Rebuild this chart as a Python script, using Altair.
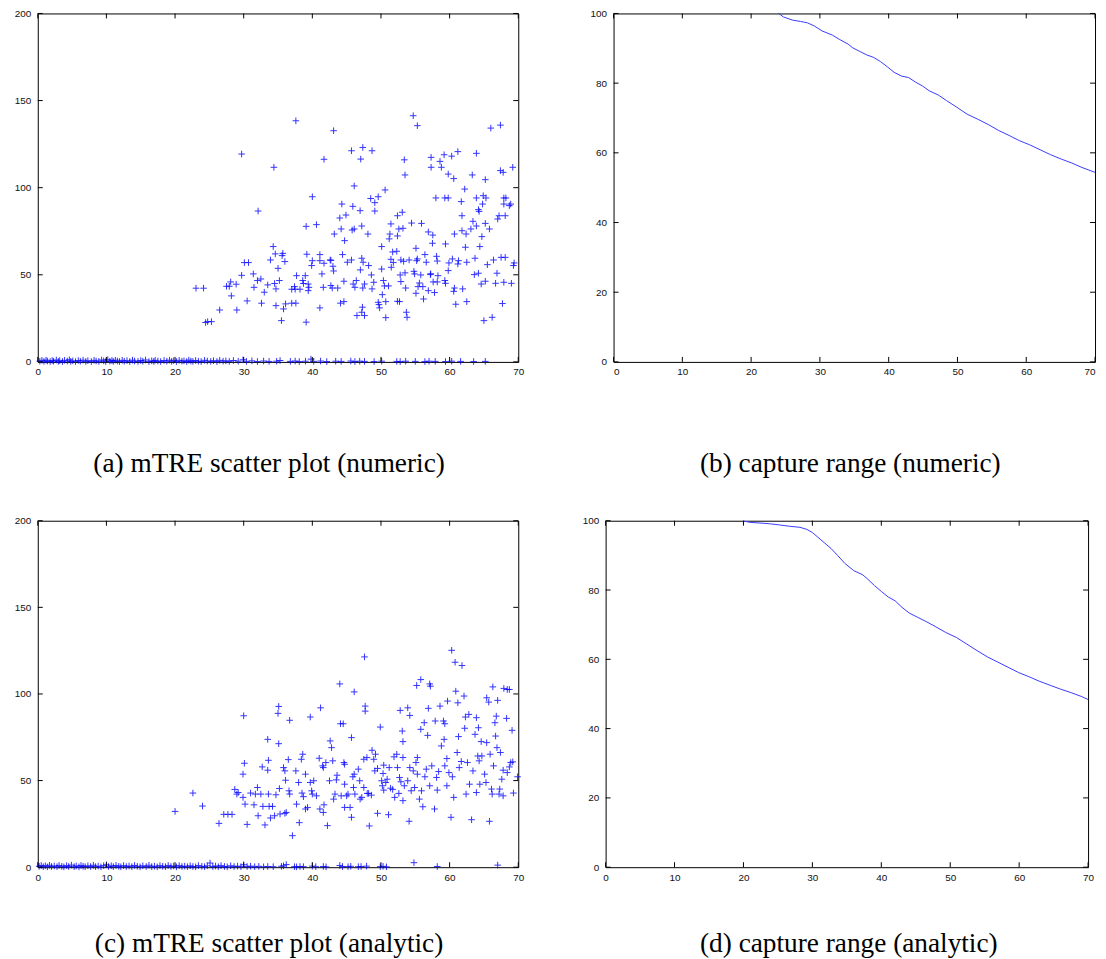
import altair as alt
import pandas as pd

# ---------------- data ----------------
x_ticks = [0, 10, 20, 30, 40, 50, 60, 70]
y_ticks_scatter = [0, 50, 100, 150, 200]
y_ticks_capture = [0, 20, 40, 60, 80, 100]

# (a) mTRE scatter (numeric): failed/large-error cloud
a_cloud = [
    (23.05,42.3),(24.15,42.3),(24.45,22.6),(24.75,23.1),(25.3,23.1),(26.5,29.8),(27.5,43.4),(27.9,43.4),(28.1,45.9),(28.2,37.9),
    (28.9,44.6),(29.0,29.8),(29.7,119.3),(29.7,49.7),(30.1,57.0),(30.7,57.0),(30.5,35.0),(31.4,50.5),(31.5,42.8),(32.1,86.6),
    (32.0,46.7),(32.5,47.6),(32.6,33.7),(33.0,40.0),(33.5,44.2),(33.9,58.5),(34.3,66.2),(34.4,111.7),(34.6,62.0),(34.5,45.0),
    (34.7,41.9),(34.7,32.3),(35.0,53.7),(35.2,46.7),(35.5,23.7),(35.6,61.0),(35.7,62.3),(35.8,30.4),(36.0,57.6),(36.1,33.3),
    (37.0,33.7),(37.0,41.7),(37.4,43.2),(37.5,41.7),(37.6,138.4),(37.7,49.5),(37.6,33.7),(38.2,41.7),(38.6,46.7),(38.7,45.0),
    (38.97,49.5),(39.1,77.8),(39.1,22.8),(39.2,61.8),(39.4,44.7),(39.5,42.8),(39.4,40.9),(40.0,94.8),(39.9,55.3),(40.0,58.1),
    (40.6,78.8),(41.1,31.0),(41.1,61.6),(41.1,58.1),(41.4,50.5),(41.6,42.8),(41.7,116.3),(41.7,56.6),(42.6,58.5),(42.7,58.3),
    (42.7,43.8),(42.9,42.4),(43.0,54.9),(43.1,132.7),(43.2,73.4),(43.1,52.2),(43.7,42.4),(44.0,82.6),(44.2,76.3),(44.4,61.6),
    (44.3,90.6),(44.1,33.7),(44.6,34.6),(44.6,46.3),(44.9,84.3),(44.7,69.6),(45.1,57.2),(45.7,58.5),(45.7,121.2),(45.9,89.3),
    (45.8,75.7),(46.1,76.3),(46.1,101.0),(45.95,44.7),(46.2,42.8),(46.5,26.6),(46.4,46.7),(46.96,86.8),(47.05,116.4),(47.2,78.0),
    (47.0,52.8),(47.2,59.5),(47.4,57.2),(47.2,28.5),(47.3,31.4),(47.35,123.1),(47.35,42.4),(47.6,44.7),(47.6,26.6),(48.1,73.4),
    (48.2,55.3),(48.5,93.8),(48.6,49.9),(48.7,121.2),(48.7,41.9),(48.95,45.7),(49.1,91.4),(49.1,86.6),(49.6,94.8),(49.6,34.2),
    (49.7,32.9),(49.8,31.0),(50.1,66.2),(50.1,53.3),(50.2,38.6),(50.35,46.7),(50.5,43.6),(50.6,98.7),(50.7,34.6),(50.7,25.4),
    (51.1,43.6),(51.2,70.6),(51.3,73.4),(51.45,58.9),(51.45,79.2),(51.5,54.3),(51.7,63.1),(51.8,57.0),(52.3,63.5),(52.4,83.9),
    (52.4,72.3),(52.6,76.3),(52.4,34.8),(52.7,34.6),(52.8,49.9),(52.9,58.5),(53.1,85.9),(53.2,76.7),(52.9,46.1),(53.3,57.7),
    (53.4,116.0),(53.5,107.3),(53.5,51.1),(53.6,42.4),(53.7,28.5),(53.8,25.6),(54.1,58.5),(54.45,79.7),(54.7,141.3),(54.8,52.0),
    (54.9,50.5),(55.1,65.2),(55.1,39.4),(55.3,135.6),(55.2,58.1),(55.3,59.1),(55.4,43.2),(55.6,45.3),(55.8,49.9),(55.9,79.5),
    (56.1,43.2),(56.2,36.1),(56.4,61.6),(56.6,57.2),(56.9,40.9),(56.9,74.6),(57.3,117.4),(57.3,111.7),(57.2,50.1),(57.25,50.6),
    (57.5,68.1),(57.55,72.8),(57.6,45.9),(57.8,39.8),(58.0,94.1),(58.1,60.6),(58.2,57.9),(58.2,45.9),(58.3,49.5),(58.6,115.1),
    (58.8,111.7),(59.2,118.9),(59.3,94.1),(59.4,67.7),(59.3,46.7),(59.4,45.1),(59.8,107.8),(59.8,94.1),(59.8,52.4),(59.9,56.8),
    (60.3,118.1),(60.4,59.1),(60.6,105.2),(60.6,40.5),(60.7,42.4),(60.7,73.4),(60.9,33.1),(61.2,120.7),(61.2,56.2),(61.3,58.1),
    (61.7,92.0),(61.8,83.9),(61.8,75.3),(61.9,41.9),(62.2,99.2),(62.3,65.8),(62.4,73.4),(62.5,57.2),(62.5,34.6),(63.1,76.3),
    (63.3,107.3),(63.4,80.7),(63.6,50.1),(63.7,59.5),(63.9,119.7),(63.9,94.1),(63.9,78.0),(64.2,87.4),(64.3,86.4),(64.2,50.9),
    (64.4,66.2),(64.6,44.7),(64.7,71.9),(64.8,90.6),(64.9,95.4),(65.0,23.7),(65.2,104.6),(65.2,79.5),(65.3,94.1),(65.2,46.3),
    (65.5,55.8),(65.8,76.3),(66.0,134.2),(66.2,25.6),(66.4,58.5),(66.7,45.1),(66.9,50.9),(67.0,82.0),(67.2,83.9),(67.4,135.9),
    (67.4,109.8),(67.5,60.0),(67.7,33.5),(67.8,108.8),(67.9,94.1),(68.2,94.1),(67.9,45.7),(68.1,83.9),(68.1,60.0),(67.9,90.6),
    (68.7,89.7),(68.9,90.6),(69.0,45.1),(69.2,111.7),(69.3,55.3),(69.4,56.8),
]

# (a) captured runs: mTRE close to zero
a_zero = [
    (0.3,0.4),(0.6,0.9),(0.9,0.3),(1.2,1.0),(1.4,0.5),(1.8,0.2),(2.1,0.8),(2.3,0.4),(2.7,1.1),(3.0,0.3),
    (3.2,0.7),(3.6,0.2),(3.9,0.9),(4.3,0.5),(4.6,1.2),(4.8,0.3),(5.1,0.6),(5.5,0.2),(5.9,0.8),(6.2,0.4),
    (6.6,1.0),(7.0,0.3),(7.3,0.7),(7.8,0.2),(8.2,0.9),(8.5,0.5),(8.9,0.3),(9.3,1.1),(9.6,0.6),(9.9,0.2),
    (10.2,1.3),(10.5,0.4),(10.8,0.8),(11.0,0.3),(11.3,1.0),(11.6,0.5),(11.9,0.2),(12.3,0.9),(12.6,0.4),(13.0,0.7),
    (13.4,0.2),(13.8,1.0),(14.1,0.5),(14.6,0.3),(15.0,0.8),(15.3,0.4),(15.7,1.1),(16.2,0.2),(16.6,0.6),(16.9,0.3),
    (17.1,0.9),(17.5,0.5),(17.9,0.2),(18.4,0.8),(18.8,0.4),(19.2,1.0),(19.5,0.3),(19.8,0.7),(20.2,0.2),(20.6,0.9),
    (21.0,0.4),(21.3,0.6),(21.7,0.2),(22.0,1.0),(22.3,0.5),(22.6,0.3),(23.0,0.8),(23.4,0.4),(23.8,0.2),(24.3,0.9),
    (24.7,0.5),(25.2,0.3),(25.6,0.7),(26.1,0.2),(26.5,0.9),(27.0,0.4),(27.4,0.6),(27.9,0.3),(28.5,0.8),(29.2,0.4),
    (29.9,1.2),(30.4,0.3),(31.2,0.6),(32.0,0.2),(32.9,0.5),(33.7,0.3),(34.8,0.4),(35.3,0.8),(36.8,0.3),(37.5,0.5),
    (38.1,0.2),(39.0,0.4),(39.8,1.6),(40.2,0.3),(41.2,0.5),(42.1,0.2),(43.4,0.4),(44.2,0.3),(45.6,0.5),(46.2,0.2),
    (46.9,0.4),(47.6,0.3),(49.0,0.2),(50.1,0.4),(52.3,0.3),(52.8,0.2),(53.6,0.4),(55.0,0.3),(56.4,0.2),(57.0,0.4),
    (57.9,0.3),(59.4,0.2),(60.3,0.4),(61.6,0.3),(63.5,0.2),(65.2,0.3),
]

# (b) capture range (numeric)
b_x = [24.0,24.7,26.0,27.2,28.2,29.2,30.3,31.8,32.8,34.1,34.8,35.8,36.8,37.8,38.8,39.8,40.8,41.9,42.9,43.9,
       44.9,45.9,47.2,48.4,49.9,51.4,52.9,54.5,56.0,57.5,59.0,60.5,62.0,63.5,65.1,66.6,68.1,70.0]
b_y = [100.0,99.0,98.1,97.7,97.3,96.4,95.0,93.8,92.6,91.2,90.1,89.1,88.1,87.4,86.2,84.7,83.1,82.0,81.6,80.3,
       79.2,77.8,76.6,75.0,73.1,71.1,69.7,68.1,66.4,65.0,63.5,62.3,60.9,59.5,58.2,57.1,55.8,54.4]

# (c) mTRE scatter (analytic): large-error cloud
c_cloud = [
    (20.0,32.2),(22.6,42.8),(24.0,35.3),(26.4,25.3),(27.1,30.5),(27.7,30.5),(28.3,30.5),(28.7,44.9),(29.0,42.2),(29.2,43.1),
    (29.9,53.7),(30.0,87.4),(30.1,60.0),(29.9,40.3),(30.2,36.4),(30.5,24.7),(31.0,42.8),(31.5,36.0),(31.7,42.2),(32.0,46.0),
    (32.1,29.7),(32.5,42.2),(32.7,57.9),(32.8,35.1),(33.1,24.4),(33.5,73.8),(33.6,61.7),(33.5,56.0),(33.6,42.2),(33.7,35.1),
    (33.9,28.4),(34.2,35.1),(34.5,29.7),(34.7,41.8),(35.0,88.8),(35.1,71.3),(35.1,92.8),(35.2,45.4),(35.3,30.7),(35.8,57.5),
    (36.0,55.6),(36.0,31.1),(36.1,50.2),(36.2,31.6),(36.5,62.1),(36.6,44.1),(36.7,42.2),(36.7,84.8),(37.1,18.2),(37.6,55.6),
    (37.7,36.4),(38.0,48.9),(38.1,25.7),(38.4,62.3),(38.6,65.2),(38.5,42.8),(38.7,40.7),(39.0,53.7),(39.0,33.6),(39.3,34.5),
    (39.7,86.7),(39.7,48.9),(39.9,44.1),(40.0,42.2),(40.2,49.9),(40.6,41.2),(41.0,62.9),(41.1,33.6),(41.2,92.0),(41.5,58.5),
    (41.6,57.5),(41.6,31.6),(41.7,36.0),(41.97,60.4),(42.2,24.0),(42.5,49.9),(42.6,72.9),(42.8,69.0),(42.97,61.4),(43.1,39.3),
    (43.3,42.2),(43.5,50.4),(43.6,53.1),(44.0,105.8),(44.1,82.8),(44.2,41.2),(44.5,82.8),(44.6,60.4),(44.7,59.4),(44.7,47.9),
    (44.7,34.5),(45.0,41.2),(45.2,42.2),(45.5,34.5),(45.7,28.8),(45.7,74.8),(45.9,52.2),(46.0,46.0),(46.1,53.7),(46.1,101.2),
    (46.2,42.2),(46.7,56.6),(46.9,49.9),(46.96,39.3),(47.2,40.3),(47.5,46.0),(47.5,62.3),(47.6,121.4),(47.7,93.0),(47.7,90.1),
    (47.95,63.3),(48.0,42.6),(48.2,42.6),(48.3,23.8),(48.6,41.6),(48.7,67.5),(48.95,62.3),(49.2,65.2),(49.1,55.6),(49.5,57.0),
    (49.5,31.1),(49.9,80.9),(50.1,49.9),(50.2,47.0),(50.3,54.1),(50.4,58.9),(50.4,44.5),(50.7,48.9),(50.9,50.8),(51.1,30.3),
    (51.2,57.5),(51.4,45.6),(51.7,44.9),(51.9,63.7),(52.0,40.3),(52.3,65.2),(52.4,57.5),(52.6,42.6),(52.7,51.8),(52.8,90.5),
    (52.9,49.3),(53.1,78.6),(53.2,72.5),(53.2,63.3),(53.2,38.4),(53.4,47.0),(53.9,92.0),(53.9,49.9),(54.1,26.5),(54.2,87.6),
    (54.2,57.5),(54.4,44.1),(54.7,55.6),(54.9,46.0),(55.1,60.4),(55.3,63.3),(55.2,104.9),(55.3,53.7),(55.6,39.3),(55.8,108.3),
    (55.8,79.6),(55.9,44.1),(56.1,34.9),(56.3,83.4),(56.4,52.2),(56.6,56.6),(56.8,76.1),(56.9,91.7),(57.1,105.8),(57.2,104.5),
    (57.1,47.0),(57.4,58.5),(57.8,33.6),(57.9,84.4),(58.1,51.8),(58.2,44.5),(58.4,55.2),(58.6,93.0),(58.8,70.0),(59.1,84.4),
    (59.3,82.8),(59.2,73.8),(59.3,58.5),(59.6,62.7),(59.6,47.0),(59.7,95.9),(59.9,54.6),(60.2,28.8),(60.3,125.2),(60.4,52.2),
    (60.6,40.3),(60.8,118.3),(60.9,101.6),(61.1,66.2),(61.2,94.9),(61.3,75.4),(61.4,57.5),(61.7,61.0),(61.8,116.4),(62.1,98.8),
    (62.2,80.2),(62.3,86.7),(62.4,42.2),(62.6,60.4),(62.8,88.2),(62.9,47.9),(63.2,27.4),(63.4,55.6),(63.7,76.7),(63.9,86.3),
    (64.2,80.5),(63.9,43.1),(64.1,64.2),(64.3,61.4),(64.4,47.9),(64.6,72.5),(64.7,64.2),(65.1,53.7),(65.3,48.9),(65.4,97.8),
    (65.4,71.9),(65.7,95.3),(65.8,26.5),(65.9,65.2),(66.1,45.1),(66.2,42.2),(66.3,104.1),(66.4,58.5),(66.6,83.4),(66.7,75.7),
    (66.8,87.2),(66.9,69.0),(67.0,96.3),(67.2,42.2),(67.3,45.1),(67.4,66.2),(67.6,50.8),(67.8,56.0),(67.8,41.2),(67.9,103.2),
    (68.4,102.6),(68.7,102.6),(68.3,85.9),(68.4,54.6),(68.7,57.9),(68.9,60.4),(69.2,60.8),(69.1,79.0),(69.3,42.8),(69.9,52.2),
]

# (c) captured runs: mTRE close to zero
c_zero = [
    (0.2,0.5),(0.5,1.0),(0.8,0.3),(1.1,0.8),(1.4,0.2),(1.7,1.1),(2.0,0.4),(2.4,0.7),(2.8,0.3),(3.1,1.0),
    (3.5,0.5),(3.8,0.2),(4.2,0.9),(4.5,0.4),(4.9,1.2),(5.3,0.3),(5.6,0.7),(6.0,0.2),(6.3,1.0),(6.6,0.5),
    (6.9,0.3),(7.3,0.8),(7.7,0.4),(8.1,1.1),(8.4,0.3),(8.8,0.6),(9.2,0.2),(9.6,0.9),(10.0,1.4),(10.3,0.4),
    (10.7,0.8),(11.0,0.3),(11.4,1.0),(11.8,0.5),(12.1,0.2),(12.5,0.9),(12.9,0.4),(13.3,0.7),(13.7,0.3),(14.1,1.0),
    (14.5,0.5),(14.9,0.2),(15.3,0.8),(15.8,0.4),(16.2,1.1),(16.6,0.3),(17.0,0.6),(17.4,0.2),(17.8,0.9),(18.2,0.5),
    (18.6,0.3),(19.0,1.0),(19.4,0.4),(19.8,0.7),(20.2,0.2),(20.6,0.9),(21.0,0.4),(21.4,0.6),(21.8,0.3),(22.2,0.8),
    (22.6,0.4),(23.0,0.2),(23.4,0.9),(23.9,0.5),(24.3,0.3),(24.7,0.8),(25.1,2.4),(25.5,0.4),(25.9,0.7),(26.3,0.3),
    (26.7,0.9),(27.2,0.4),(27.6,0.2),(28.1,0.8),(28.6,0.4),(29.1,0.6),(29.6,0.3),(30.0,1.4),(30.5,0.4),(31.0,0.6),
    (31.6,0.3),(32.2,0.5),(32.9,0.2),(33.5,0.4),(34.3,0.3),(35.5,0.5),(35.8,0.8),(36.2,1.5),(37.4,0.3),(37.7,0.2),
    (38.2,0.4),(38.7,0.3),(40.0,0.6),(40.5,0.3),(41.6,0.4),(42.0,0.2),(44.0,1.0),(44.4,0.4),(45.2,0.3),(45.6,0.5),
    (46.7,0.3),(47.1,0.4),(47.9,0.6),(49.9,0.3),(50.3,0.5),(50.8,0.2),(54.8,2.6),(58.2,0.4),(67.0,1.2),
]

# (d) capture range (analytic)
d_x = [20.0,21.1,22.7,23.9,25.2,26.7,28.2,29.2,30.0,30.7,31.7,32.7,33.7,34.7,36.0,37.3,38.0,39.0,40.0,41.0,
       42.0,43.0,44.1,45.3,46.6,47.8,49.3,50.9,52.4,53.9,55.4,56.9,58.4,59.9,61.4,62.9,64.5,66.0,67.5,69.0,70.0]
d_y = [99.9,99.5,99.3,99.1,98.8,98.4,98.1,97.5,96.6,95.4,93.7,92.0,89.9,87.7,85.6,84.4,83.2,81.3,79.6,78.0,
       76.9,75.0,73.3,72.1,70.8,69.5,67.8,66.3,64.4,62.5,60.7,59.2,57.7,56.2,55.0,53.7,52.5,51.4,50.4,49.3,48.4]

captions = {
    "a": "(a) mTRE scatter plot (numeric)",
    "b": "(b) capture range (numeric)",
    "c": "(c) mTRE scatter plot (analytic)",
    "d": "(d) capture range (analytic)",
}

# ---------------- drawing ----------------
BLUE = "#0000ff"
LINE_BLUE = "#3a3aff"
TICK = 5
PLUS = "M-1,0L1,0M0,-1L0,1"


def axes(yvals, flush=False):
    ax = alt.Axis(values=x_ticks, title=None, grid=False, ticks=False, tickSize=0, domain=False,
                  labelPadding=5, labelFlush=flush)
    ay = alt.Axis(values=yvals, title=None, grid=False, ticks=False, tickSize=0, domain=False,
                  labelPadding=7)
    return ax, ay


def frame_ticks(W, H, xsc, ysc, yvals, ax, ay):
    xs = pd.DataFrame({"v": x_ticks})
    ys = pd.DataFrame({"v": yvals})
    r = dict(color="black", strokeWidth=1)
    bottom = alt.Chart(xs).mark_rule(**r).encode(
        x=alt.X("v:Q", scale=xsc, axis=ax), y=alt.value(H), y2=alt.value(H - TICK))
    top = alt.Chart(xs).mark_rule(**r).encode(
        x=alt.X("v:Q", scale=xsc, axis=ax), y=alt.value(0), y2=alt.value(TICK))
    left = alt.Chart(ys).mark_rule(**r).encode(
        y=alt.Y("v:Q", scale=ysc, axis=ay), x=alt.value(0), x2=alt.value(TICK))
    right = alt.Chart(ys).mark_rule(**r).encode(
        y=alt.Y("v:Q", scale=ysc, axis=ay), x=alt.value(W), x2=alt.value(W - TICK))
    return [bottom, top, left, right]


def title(text, offset, dx):
    return alt.TitleParams(text=text, orient="bottom", anchor="middle", font="Liberation Serif",
                           fontSize=27.5, fontWeight="normal", color="black", offset=offset, dx=dx)


def scatter_panel(cloud, zero, cap, W, H, offset, dx):
    pts = [{"x": p[0], "y": p[1]} for p in zero] + [{"x": p[0], "y": p[1]} for p in cloud]
    df = pd.DataFrame(pts)
    ax, ay = axes(y_ticks_scatter)
    xsc = alt.Scale(domain=[0, 70], nice=False, zero=False)
    ysc = alt.Scale(domain=[0, 200], nice=False, zero=False)
    pts_layer = alt.Chart(df).mark_point(shape=PLUS, size=44, filled=False, color=BLUE,
                                         strokeWidth=1, opacity=0.8).encode(
        x=alt.X("x:Q", scale=xsc, axis=ax),
        y=alt.Y("y:Q", scale=ysc, axis=ay),
    )
    return alt.layer(pts_layer, *frame_ticks(W, H, xsc, ysc, y_ticks_scatter, ax, ay)).properties(
        width=W, height=H, title=title(cap, offset, dx))


def line_panel(xs, ys, cap, W, H, offset, dx, flush=False):
    df = pd.DataFrame({"x": xs, "y": ys})
    ax, ay = axes(y_ticks_capture, flush)
    xsc = alt.Scale(domain=[0, 70], nice=False, zero=False)
    ysc = alt.Scale(domain=[0, 100], nice=False, zero=False)
    ln = alt.Chart(df).mark_line(color=LINE_BLUE, strokeWidth=1).encode(
        x=alt.X("x:Q", scale=xsc, axis=ax),
        y=alt.Y("y:Q", scale=ysc, axis=ay),
    )
    return alt.layer(ln, *frame_ticks(W, H, xsc, ysc, y_ticks_capture, ax, ay)).properties(
        width=W, height=H, title=title(cap, offset, dx))


pa = scatter_panel(a_cloud, a_zero, captions["a"], 484, 351, 74, -9)
pb = line_panel(b_x, b_y, captions["b"], 485, 351, 74, -4, flush=True)
pc = scatter_panel(c_cloud, c_zero, captions["c"], 484, 349, 48, -9)
pd_ = line_panel(d_x, d_y, captions["d"], 486, 349, 48, 2)

row1 = alt.hconcat(pa, pb, spacing=64)
row2 = alt.hconcat(pc, pd_, spacing=56)

chart = alt.vconcat(row1, row2, spacing=37).properties(
    padding={"left": 5, "top": -4, "right": 0, "bottom": 0},
    background="white",
).configure_view(
    stroke="black", strokeWidth=1
).configure_axis(
    labelFont="Liberation Sans", labelFontSize=10, labelColor="#111"
)

chart.save("out.html", embed_options={"renderer": "svg", "actions": False})
